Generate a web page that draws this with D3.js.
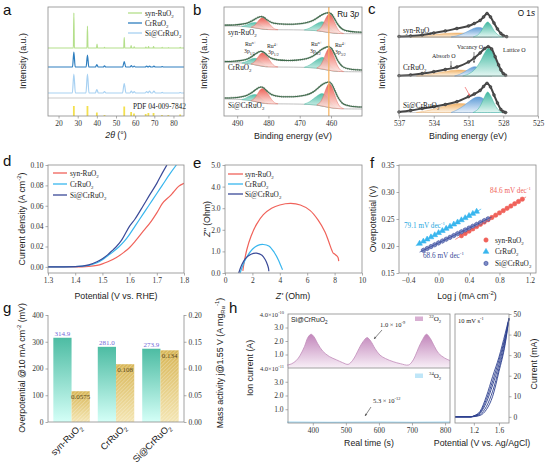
<!DOCTYPE html>
<html>
<head>
<meta charset="utf-8">
<script src="https://cdn.jsdelivr.net/npm/d3@7"></script>
<style>
  body { margin: 0; background: #fff; }
  svg { display: block; }
</style>
</head>
<body>
<svg id="fig" width="546" height="465"></svg>
<script>
// ---------- data ----------
var sampleNames = ["syn-RuO_{2}", "CrRuO_{2}", "Si@CrRuO_{2}"];

// (a) XRD: [2theta, height, half width]
var xrdTicks = [20, 30, 40, 50, 60, 70, 80];
var xrdSyn = [[28.0,3.5,0.25],[35.1,2.2,0.25],[40.1,0.4,0.25],[44.0,0.06,0.25],[54.3,1.05,0.25],[57.9,0.25,0.25],[59.5,0.12,0.25],[65.6,0.1,0.25],[67.0,0.15,0.25],[69.6,0.15,0.25],[74.1,0.06,0.25],[77.4,0.05,0.25],[83.5,0.06,0.25]];
var xrdCr = [[28.0,1.5,0.7],[35.1,1.2,0.7],[40.0,0.25,0.7],[44.0,0.12,0.6],[54.3,0.55,0.8],[58.0,0.15,0.6],[59.5,0.1,0.6],[66.0,0.1,0.7],[67.5,0.1,0.7],[69.8,0.1,0.7],[74.1,0.05,0.6]];
var xrdSi = [[28.0,1.9,0.8],[35.1,1.9,0.8],[40.0,0.35,0.8],[44.0,0.15,0.7],[54.3,0.95,0.9],[58.0,0.2,0.7],[59.5,0.15,0.7],[66.0,0.15,0.8],[67.5,0.2,0.8],[69.8,0.2,0.8],[74.1,0.06,0.7],[83.5,0.05,0.7]];
var pdfSticks = [[28.0,1.0],[35.1,1.0],[40.0,0.35],[44.0,0.1],[54.3,0.95],[57.9,0.4],[59.4,0.25],[65.5,0.2],[66.9,0.3],[69.6,0.3],[74.0,0.1],[77.3,0.1],[83.5,0.15]];

// (b) Ru 3p fit, [eV, value] and components [eV, low, high]
var ruTicks = [490, 480, 470, 460];
var ruEnv = [[494,18],[491,18.3],[489,19],[487,20.5],[485.5,23],[484,26.5],[483,28.5],[482.3,29],[481.5,28],[480.5,25],[479,21.5],[477,19.8],[474,19.2],[471,19.5],[468,21],[466,23.5],[464.5,27],[463,31],[461.5,33.5],[460.6,34],[459.8,32],[459,27],[458,20],[457,15],[456,12],[454,10],[452,9.2],[450.1,9]];
var ruBg = [[494,17],[490,16.7],[487,16],[485,15],[483,13.5],[481,12.5],[478,12.2],[472,12],[468,11.7],[465,11],[463,10],[461,8.8],[459,7.8],[456,7.2],[450.1,7]];
var ruN12 = [[488.5,16.3,16.5],[487.5,16.1,17.5],[486.5,15.8,19.2],[485.5,15.3,20.8],[484.3,14.6,21.5],[483.3,14,20.5],[482.3,13.4,17.8],[481.3,12.7,14.8],[480.3,12.4,12.9]];
var ru4p12 = [[485.5,15.3,15.6],[484.5,14.7,17.5],[483.5,14.1,22],[482.5,13.5,26.5],[481.8,13.1,27.5],[481,12.6,26],[480,12.4,21.5],[479,12.3,16.5],[478,12.2,13.2],[477,12.1,12.3]];
var ruN32 = [[468.5,11.7,12],[467,11.5,14],[465.5,11.2,17.5],[464,10.7,21],[463,10,22.5],[462,9.5,21.5],[461,8.8,18],[460,8.3,13],[459,7.8,9.5],[458,7.5,7.8]];
var ru4p32 = [[464.5,10.9,11.3],[463.5,10.4,13.5],[462.5,9.8,19.5],[461.5,9.2,28],[460.6,8.7,32.5],[459.8,8.2,30],[459,7.8,23],[458,7.5,14],[457,7.3,9],[456,7.2,7.4]];
var ruGain = [0.78, 0.93, 1.0];
var ruShift = [76.8, 37.7, 0];
var ruLine = 460.7;

// (c) O 1s, [eV, value]
var oTicks = [537, 534, 531, 528, 525];
var oSynData = [[537,0.5],[536,1],[535,2],[534,4],[533,6],[532,8.5],[531,11],[530.5,13.5],[530,16.5],[529.7,20],[529.4,23.5],[529.1,20],[528.8,14],[528.5,8],[528.2,3.5],[528,1.5],[527.7,0.3]];
var oSynAbs = [[536,0],[535,0.8],[534,2.2],[533,3.5],[532,4],[531,3.5],[530.5,2.6],[530,1.6],[529.5,0.7],[529,0]];
var oSynVac = [[532.5,0],[532,1.2],[531.5,3.2],[531,6],[530.5,8.8],[530.2,9.6],[529.9,9.2],[529.5,7],[529.1,3.8],[528.8,1.5],[528.5,0]];
var oSynLat = [[530.6,0],[530.2,2],[529.9,6],[529.6,12],[529.35,15],[529.1,12.5],[528.8,6.5],[528.5,2.5],[528.2,0.5],[528,0]];
var oCrData = [[537,0.3],[536,1],[535,2.5],[534,4.3],[533,6.5],[532,9],[531,14],[530.5,18],[530,23],[529.6,27.5],[529.3,29.3],[529,27],[528.7,19.3],[528.4,11],[528.2,6],[528,2.5],[527.8,0.8]];
var oCrAbs = [[535.5,0],[534.5,1.5],[533.5,3.5],[532.5,5.5],[531.8,6],[531,5],[530.5,3.5],[530,2],[529.5,0.8],[529,0]];
var oCrVac = [[532.2,0],[531.8,1.5],[531.3,4.5],[530.9,7.5],[530.5,9.3],[530.1,8],[529.7,5],[529.3,2],[529,0]];
var oCrLat = [[531.5,0],[531,2],[530.5,6],[530,14],[529.6,23],[529.3,27.7],[529,25],[528.7,17],[528.4,9],[528.1,3],[527.8,0]];
var oSiData = [[537,0.5],[536,2],[535,4],[534,5.8],[533,8],[532,10.8],[531,15.8],[530.5,18.5],[530,22],[529.7,26],[529.4,29.2],[529.1,25.5],[528.8,17.5],[528.5,9.5],[528.2,3],[528,0.8],[527.8,0]];
var oSiAbs = [[535.5,0],[534.5,2],[533.5,5],[532.5,8],[531.7,9],[531,8],[530.5,6],[530,3.5],[529.5,1.5],[529,0]];
var oSiVac = [[532.5,0],[532,2.5],[531.5,6],[531,10.5],[530.5,14.5],[530.2,15.5],[529.9,15],[529.5,11.5],[529.1,6],[528.7,2],[528.4,0]];
var oSiLat = [[530.6,0],[530.2,3],[529.9,8.5],[529.6,16],[529.35,20.5],[529.1,17],[528.8,9.5],[528.5,3.5],[528.2,0.8],[528,0]];
var oBase = [0, 0, 3.5];

// (d) LSV, [V vs RHE, A cm-2]
var lsvSyn = [[1.3,0],[1.4,0],[1.45,0.0005],[1.48,0.0015],[1.5,0.003],[1.52,0.005],[1.55,0.009],[1.58,0.0145],[1.6,0.019],[1.62,0.025],[1.65,0.035],[1.68,0.045],[1.7,0.053],[1.72,0.062],[1.75,0.07],[1.76,0.073],[1.78,0.079],[1.8,0.082]];
var lsvCr = [[1.3,0],[1.4,0.0003],[1.45,0.0015],[1.48,0.004],[1.5,0.007],[1.52,0.011],[1.54,0.015],[1.56,0.0195],[1.58,0.025],[1.6,0.032],[1.62,0.04],[1.65,0.052],[1.67,0.06],[1.7,0.072],[1.72,0.08],[1.75,0.092],[1.772,0.1]];
var lsvSi = [[1.3,0],[1.4,0.0003],[1.45,0.002],[1.48,0.005],[1.5,0.008],[1.52,0.012],[1.54,0.017],[1.55,0.0195],[1.57,0.026],[1.6,0.04],[1.62,0.047],[1.65,0.06],[1.67,0.069],[1.7,0.082],[1.72,0.092],[1.737,0.1]];

// (e) Nyquist, [Z', Z'']
var eisSyn = [[1.3,0.1],[1.4,0.5],[1.6,1.1],[1.9,1.7],[2.3,2.25],[2.8,2.7],[3.4,3.0],[4.0,3.15],[4.8,3.22],[5.5,3.15],[6.2,2.9],[6.8,2.45],[7.3,1.9],[7.6,1.4],[7.8,1.05],[7.9,0.92],[8.0,0.88],[8.15,0.8],[8.25,0.72],[8.3,0.55]];
var eisCr = [[1.1,0],[1.3,0.35],[1.6,0.75],[2.0,1.1],[2.4,1.28],[2.8,1.32],[3.2,1.25],[3.6,0.95],[3.9,0.6],[4.1,0.3],[4.2,0.15]];
var eisSi = [[1.0,0],[1.2,0.35],[1.5,0.68],[1.9,0.87],[2.3,0.92],[2.7,0.82],[2.95,0.6],[3.1,0.38],[3.18,0.2],[3.2,0.08]];

// (f) Tafel, [log j, overpotential]
var tafSyn = [[0.30,0.2190],[0.35,0.2232],[0.40,0.2275],[0.45,0.2317],[0.50,0.2359],[0.55,0.2402],[0.60,0.2444],[0.65,0.2486],[0.70,0.2528],[0.75,0.2571],[0.80,0.2613],[0.85,0.2655],[0.90,0.2698],[0.95,0.2740],[1.00,0.2782],[1.05,0.2824],[1.10,0.2867]];
var tafCr = [[-0.25,0.2045],[-0.20,0.2085],[-0.15,0.2124],[-0.10,0.2164],[-0.05,0.2203],[0,0.2243],[0.05,0.2282],[0.10,0.2322],[0.15,0.2361],[0.20,0.2401],[0.25,0.2440],[0.30,0.2480],[0.35,0.2519],[0.40,0.2559],[0.45,0.2598],[0.50,0.2638]];
var tafSi = [[-0.20,0.1920],[-0.15,0.1954],[-0.10,0.1989],[-0.05,0.2023],[0,0.2057],[0.05,0.2092],[0.10,0.2126],[0.15,0.2160],[0.20,0.2194],[0.25,0.2229],[0.30,0.2263],[0.35,0.2297],[0.40,0.2332],[0.45,0.2366],[0.50,0.2400],[0.55,0.2434],[0.60,0.2469],[0.65,0.2503]];
var fitSyn = [[0.22,0.2122],[1.15,0.2909]];
var fitCr = [[-0.30,0.2005],[0.56,0.2685]];
var fitSi = [[-0.25,0.1886],[0.70,0.2537]];
var tafelSlopes = ["84.6 mV dec^{-1}", "79.1 mV dec^{-1}", "68.6 mV dec^{-1}"];

// (g) overpotential and mass activity
var overpot = [314.9, 281.0, 273.9];
var massAct = [0.0575, 0.108, 0.134];
var overLabels = ["314.9", "281.0", "273.9"];
var massLabels = ["0.0575", "0.108", "0.134"];

// (h) DEMS ion current (x 1e-10 A) and CV
var ms32 = [[322,0.22],[335,0.3],[350,0.55],[362,0.95],[375,1.6],[386,2.3],[395,2.5],[404,2.3],[415,1.8],[430,1.25],[450,0.85],[472,0.6],[490,0.4],[507,0.27],[520,0.55],[530,0.95],[540,1.45],[552,1.95],[564,2.25],[575,2.0],[588,1.45],[603,0.96],[620,0.7],[643,0.47],[665,0.32],[689,0.22],[700,0.45],[710,0.9],[720,1.5],[732,2.1],[744,2.5],[755,2.2],[768,1.6],[780,1.1],[798,0.75],[815,0.55]];
var ms34 = [[322,0.06],[450,0.05],[600,0.06],[700,0.05],[815,0.06]];
var cvE = [0.9, 1.15, 1.2, 1.3, 1.4, 1.5, 1.6, 1.7, 1.76];
var cvScan1 = [0, 0, 0.5, 2.7, 10, 19.7, 29, 40.6, 48];
var cvScan2 = [0, 0, 0.4, 2.2, 8.5, 17.5, 27.5, 39, 47.5];
var cvScan3 = [0, 0, 0.3, 1.8, 7, 15.5, 25.5, 38, 47.5];
var cvScan4 = [0, 0, 0.2, 1.2, 5, 12.5, 23.5, 36.5, 48];
var cvScan5 = [0, 0, 0.1, 0.7, 3.5, 10, 22, 35.5, 48];

// ---------- helpers ----------
var fig = d3.select("#fig");
var SERIF = "'Liberation Serif', 'Times New Roman', serif";
var SANS = "'Liberation Sans', Arial, sans-serif";
var AX = "#8a8a8a";
var RED = "#f0625a", LBLUE = "#38b6ee", NAVY = "#3a4a98";

function rich(t, s, fs) {
  var re = /([_^*])\{([^}]*)\}|([^_^*]+)/g, m, cur = 0;
  while ((m = re.exec(s))) {
    var txt, target = 0, small = false, ital = false;
    if (m[3] !== undefined) { txt = m[3]; }
    else {
      txt = m[2];
      if (m[1] === "_") { target = 0.28 * fs; small = true; }
      else if (m[1] === "^") { target = -0.4 * fs; small = true; }
      else { ital = true; }
    }
    var ts = t.append("tspan").text(txt);
    if (target !== cur) { ts.attr("dy", target - cur); cur = target; }
    if (small) ts.attr("font-size", fs * 0.68);
    if (ital) ts.attr("font-style", "italic");
  }
  return t;
}

function label(x, y, s, o) {
  o = Object.assign({fs: 7, font: SERIF, anchor: "start", fill: "#222", rot: 0}, o || {});
  var t = fig.append("text")
      .attr("font-family", o.font)
      .attr("font-size", o.fs)
      .attr("fill", o.fill)
      .attr("text-anchor", o.anchor);
  if (o.rot) t.attr("transform", "translate(" + x + "," + y + ") rotate(" + o.rot + ")");
  else t.attr("x", x).attr("y", y);
  return rich(t, s, o.fs);
}
function xtitle(x, y, s) { return label(x, y, s, {font: SANS, fs: 8.8, anchor: "middle"}); }
function ytitle(x, y, s, rot) { return label(x, y, s, {font: SANS, fs: 8.8, anchor: "middle", rot: rot || -90}); }
function letter(x, y, s) { return label(x, y, s, {font: SANS, fs: 15, fill: "#111"}); }

function frame(x0, y0, x1, y1) {
  fig.append("rect")
      .attr("x", x0).attr("y", y0)
      .attr("width", x1 - x0).attr("height", y1 - y0)
      .attr("fill", "none").attr("stroke", AX).attr("stroke-width", 0.8);
}
function hline(x0, x1, y, col) {
  fig.append("line").attr("x1", x0).attr("x2", x1).attr("y1", y).attr("y2", y)
      .attr("stroke", col || AX).attr("stroke-width", 0.8);
}
function styleAxis(g) {
  g.attr("font-family", SERIF).attr("font-size", 7.5);
  g.select(".domain").remove();
  g.selectAll(".tick line").attr("stroke", AX).attr("stroke-width", 0.7);
  g.selectAll(".tick text").attr("fill", "#333");
  return g;
}
function axisAt(axis, x, y) {
  return styleAxis(fig.append("g").attr("transform", "translate(" + x + "," + y + ")").call(axis));
}

// gradients
var defs = fig.append("defs");
function vgrad(id, top, bottom) {
  var g = defs.append("linearGradient").attr("id", id)
      .attr("x1", 0).attr("y1", 0).attr("x2", 0).attr("y2", 1);
  g.append("stop").attr("offset", "0%").attr("stop-color", top);
  g.append("stop").attr("offset", "100%").attr("stop-color", bottom);
}
vgrad("gRed", "#ea5246", "#fde7e3");
vgrad("gTealX", "#3fb8a0", "#e3f6f2");
vgrad("gOrange", "#f1b46a", "#fdf3e6");
vgrad("gBlue", "#5d9bd6", "#e8f1fb");
vgrad("gTeal", "#4dbca3", "#d4fff7");
vgrad("gYellow", "#d8b656", "#f4e6b4");
vgrad("gPink", "#c286bb", "#f8eff7");
var hatch = defs.append("pattern").attr("id", "hatch")
    .attr("width", 2.6).attr("height", 2.6)
    .attr("patternUnits", "userSpaceOnUse")
    .attr("patternTransform", "rotate(45)");
hatch.append("line").attr("x1", 0).attr("y1", 0).attr("x2", 0).attr("y2", 2.6)
    .attr("stroke", "#fff").attr("stroke-width", 0.9).attr("stroke-opacity", 0.5);

// ---------- (a) XRD ----------
var xA = d3.scaleLinear().domain([14.5, 85.5]).range([48, 184]);
var yA = d3.scaleLinear().domain([0, 10.9]).range([116, 7]);
var xrdSets = [xrdSyn, xrdCr, xrdSi];
var xrdColors = ["#b4df8a", "#2e7ebf", "#a8d1f2"];
var xrdShift = [6.8, 4.9, 2.3];

function xrdLine(peaks) {
  var pts = [[14.5, 0]];
  peaks.forEach(function(p) { pts.push([p[0] - p[2], 0], [p[0], p[1]], [p[0] + p[2], 0]); });
  pts.push([85.5, 0]);
  return pts;
}
xrdSets.forEach(function(peaks, i) {
  var line = d3.line()
      .x(function(d) { return xA(d[0]); })
      .y(function(d) { return yA(xrdShift[i] + d[1]); })
      .curve(d3.curveMonotoneX);
  fig.append("path").attr("d", line(xrdLine(peaks)))
      .attr("fill", "none").attr("stroke", xrdColors[i]).attr("stroke-width", 1.2);
});
hline(48, 184, yA(1.8), "#bbb");
fig.append("g").selectAll("line").data(pdfSticks).join("line")
    .attr("x1", function(d) { return xA(d[0]); })
    .attr("x2", function(d) { return xA(d[0]); })
    .attr("y1", yA(0))
    .attr("y2", function(d) { return yA(d[1]); })
    .attr("stroke", "#f3e04e").attr("stroke-width", 1.8);
label(133, 109, "PDF 04-009-7842", {fs: 7.3});
sampleNames.forEach(function(n, i) {
  var y = 13 + i * 10;
  fig.append("line").attr("x1", 128).attr("x2", 142).attr("y1", y).attr("y2", y)
      .attr("stroke", xrdColors[i]).attr("stroke-width", 1.3);
  label(145, y + 2.5, n, {fs: 7.3});
});
frame(48, 7, 184, 116);
axisAt(d3.axisBottom(xA).tickValues(xrdTicks).tickSize(2.5).tickPadding(2.5), 0, 116);
ytitle(26, 61, "Intensity (a.u.)");
xtitle(116, 138, "*{2θ} (°)");
letter(3, 15, "a");

// ---------- (b) Ru 3p ----------
var xB = d3.scaleLinear().domain([494.2, 450.1]).range([224, 362]);
var yB = d3.scaleLinear().domain([0, 109]).range([116, 7]);
[0, 1, 2].forEach(function(i) {
  function yy(v) { return yB(ruShift[i] + ruGain[i] * v); }
  var area = d3.area()
      .x(function(d) { return xB(d[0]); })
      .y0(function(d) { return yy(d[1]); })
      .y1(function(d) { return yy(d[2]); })
      .curve(d3.curveCatmullRom);
  var line = d3.line()
      .x(function(d) { return xB(d[0]); })
      .y(function(d) { return yy(d[1]); })
      .curve(d3.curveCatmullRom);
  fig.append("path").attr("d", line(ruBg)).attr("fill", "none").attr("stroke", "#b0b0b0").attr("stroke-width", 0.8);
  [[ruN12, "url(#gTealX)", "#3fb8a0"], [ruN32, "url(#gTealX)", "#3fb8a0"],
   [ru4p12, "url(#gRed)", "#e65a4e"], [ru4p32, "url(#gRed)", "#e65a4e"]].forEach(function(c) {
    fig.append("path").attr("d", area(c[0])).attr("fill", c[1])
        .attr("stroke", c[2]).attr("stroke-width", 0.4).attr("fill-opacity", 0.9);
  });
  fig.append("path").attr("d", line(ruEnv)).attr("fill", "none")
      .attr("stroke", "#9aa69c").attr("stroke-width", 2.0).attr("stroke-dasharray", "1.2,0.8");
  fig.append("path").attr("d", line(ruEnv)).attr("fill", "none")
      .attr("stroke", "#3f6b4c").attr("stroke-width", 1.1);
});
fig.append("line").attr("x1", xB(ruLine)).attr("x2", xB(ruLine)).attr("y1", 7).attr("y2", 116)
    .attr("stroke", "#f6b05c").attr("stroke-width", 1.2);
label(228, 35, sampleNames[0], {fs: 7.3});
label(228, 70, sampleNames[1], {fs: 7.3});
label(228, 108, sampleNames[2], {fs: 7.3});
label(245, 46, "Ru^{n+}", {fs: 5.8});
label(244, 53, "3p_{1/2}", {fs: 5.8});
label(267, 48, "Ru^{4+}", {fs: 5.8});
label(268, 54, "3p_{1/2}", {fs: 5.8});
label(311, 46, "Ru^{n+}", {fs: 5.8});
label(310, 53, "3p_{3/2}", {fs: 5.8});
label(335, 47, "Ru^{4+}", {fs: 5.8});
label(335, 54, "3p_{3/2}", {fs: 5.8});
label(359, 17, "Ru 3*{p}", {font: SANS, fs: 8.2, anchor: "end", fill: "#111"});
frame(224, 7, 362, 116);
axisAt(d3.axisBottom(xB).tickValues(ruTicks).tickSize(2.5).tickPadding(2.5), 0, 116);
ytitle(207, 61, "Intensity (a.u.)");
xtitle(293, 139, "Binding energy (eV)");
letter(193, 15, "b");

// ---------- (c) O 1s ----------
var xC = d3.scaleLinear().domain([537, 525]).range([399, 538]);
var oSubs = [[7, 37], [37, 76], [76, 116]];
var oSets = [[oSynData, oSynAbs, oSynVac, oSynLat], [oCrData, oCrAbs, oCrVac, oCrLat], [oSiData, oSiAbs, oSiVac, oSiLat]];
var oFills = [["url(#gOrange)", "#eeb06a"], ["url(#gBlue)", "#5d9bd6"], ["url(#gTealX)", "#3fb8a0"]];
oSets.forEach(function(set, i) {
  var top = oSubs[i][0], bot = oSubs[i][1];
  var y = d3.scaleLinear().domain([0, bot - top]).range([bot, top]);
  var base = oBase[i];
  var area = d3.area()
      .x(function(d) { return xC(d[0]); })
      .y0(y(base))
      .y1(function(d) { return y(base + d[1]); })
      .curve(d3.curveCatmullRom);
  fig.append("line").attr("x1", xC(537)).attr("x2", xC(527.6)).attr("y1", y(base)).attr("y2", y(base))
      .attr("stroke", "#bbb").attr("stroke-width", 0.7);
  [1, 2, 3].forEach(function(k) {
    fig.append("path").attr("d", area(set[k])).attr("fill", oFills[k - 1][0])
        .attr("stroke", oFills[k - 1][1]).attr("stroke-width", 0.5);
  });
  var line = d3.line()
      .x(function(d) { return xC(d[0]); })
      .y(function(d) { return y(base + d[1]); })
      .curve(d3.curveCatmullRom);
  fig.append("path").attr("d", line(set[0])).attr("fill", "none")
      .attr("stroke", "#454545").attr("stroke-width", 2);
  fig.append("g").selectAll("circle").data(set[0]).join("circle")
      .attr("cx", function(d) { return xC(d[0]); })
      .attr("cy", function(d) { return y(base + d[1]); })
      .attr("r", 1.4).attr("fill", "#555").attr("stroke", "#333").attr("stroke-width", 0.5);
});
hline(399, 538, 37);
hline(399, 538, 76);
label(403, 33, sampleNames[0], {fs: 7.3});
label(403, 70, sampleNames[1], {fs: 7.3});
label(403, 108, sampleNames[2], {fs: 7.3});
label(432, 58, "Absorb O", {fs: 6});
label(457, 49, "Vacancy O", {fs: 6});
label(503, 52, "Lattice O", {fs: 6});
function arrow(x1, y1, x2, y2, col) {
  fig.append("line").attr("x1", x1).attr("y1", y1).attr("x2", x2).attr("y2", y2)
      .attr("stroke", col).attr("stroke-width", 0.7);
  var a = Math.atan2(y2 - y1, x2 - x1), L = 2.6;
  var p = [[x2, y2],
           [x2 - L * Math.cos(a - 0.45), y2 - L * Math.sin(a - 0.45)],
           [x2 - L * Math.cos(a + 0.45), y2 - L * Math.sin(a + 0.45)]];
  fig.append("path").attr("d", "M" + p.join("L") + "Z").attr("fill", col);
}
arrow(451, 61, 451, 68, "#555");
arrow(474, 52, 474, 63, "#555");
arrow(465, 87, 470, 96, "#f06262");
label(535, 16, "O 1*{s}", {font: SANS, fs: 8.2, anchor: "end", fill: "#111"});
frame(399, 7, 538, 116);
axisAt(d3.axisBottom(xC).tickValues(oTicks).tickSize(2.5).tickPadding(2.5), 0, 116);
ytitle(385, 61, "Intensity (a.u.)");
xtitle(468, 139, "Binding energy (eV)");
letter(368, 14, "c");

// ---------- (d) LSV ----------
var xD = d3.scaleLinear().domain([1.3, 1.8]).range([48, 184]);
var yD = d3.scaleLinear().domain([-0.006, 0.1]).range([273, 165]);
var lsvColors = [RED, LBLUE, NAVY];
fig.append("clipPath").attr("id", "clipD").append("rect").attr("x", 48).attr("y", 165).attr("width", 136).attr("height", 108);
[lsvSyn, lsvCr, lsvSi].forEach(function(s, i) {
  var line = d3.line().x(function(d) { return xD(d[0]); }).y(function(d) { return yD(d[1]); }).curve(d3.curveMonotoneX);
  fig.append("path").attr("d", line(s)).attr("clip-path", "url(#clipD)")
      .attr("fill", "none").attr("stroke", lsvColors[i]).attr("stroke-width", 1.2);
});
sampleNames.forEach(function(n, i) {
  var y = 173 + i * 11;
  fig.append("line").attr("x1", 53).attr("x2", 67).attr("y1", y).attr("y2", y)
      .attr("stroke", lsvColors[i]).attr("stroke-width", 1.3);
  label(70, y + 2.5, n, {fs: 7.3});
});
frame(48, 165, 184, 273);
axisAt(d3.axisBottom(xD).tickValues([1.3, 1.4, 1.5, 1.6, 1.7, 1.8]).tickFormat(d3.format(".1f")).tickSize(2.5).tickPadding(2.5), 0, 273);
axisAt(d3.axisLeft(yD).tickValues([0, 0.02, 0.04, 0.06, 0.08, 0.1]).tickFormat(d3.format(".2f")).tickSize(2.5).tickPadding(2), 48, 0);
ytitle(25, 219, "Current density (A cm^{-2})");
xtitle(116, 299, "Potential (V vs. RHE)");
letter(3, 166, "d");

// ---------- (e) EIS ----------
var xE = d3.scaleLinear().domain([0, 10]).range([225, 362]);
var yE = d3.scaleLinear().domain([0, 5]).range([273, 165]);
[eisSyn, eisCr, eisSi].forEach(function(s, i) {
  var line = d3.line().x(function(d) { return xE(d[0]); }).y(function(d) { return yE(d[1]); }).curve(d3.curveCatmullRom);
  fig.append("path").attr("d", line(s)).attr("fill", "none").attr("stroke", lsvColors[i]).attr("stroke-width", 1.2);
});
sampleNames.forEach(function(n, i) {
  var y = 174 + i * 10;
  fig.append("line").attr("x1", 228).attr("x2", 243).attr("y1", y).attr("y2", y)
      .attr("stroke", lsvColors[i]).attr("stroke-width", 1.3);
  label(245, y + 2.5, n, {fs: 7.3});
});
frame(225, 165, 362, 273);
axisAt(d3.axisBottom(xE).tickValues([0, 2, 4, 6, 8, 10]).tickSize(2.5).tickPadding(2.5), 0, 273);
axisAt(d3.axisLeft(yE).tickValues([0, 1, 2, 3, 4, 5]).tickSize(2.5).tickPadding(2), 225, 0);
ytitle(210, 219, "*{Z''} (Ohm)");
xtitle(293, 299, "*{Z'} (Ohm)");
letter(193, 168, "e");

// ---------- (f) Tafel ----------
var xF = d3.scaleLinear().domain([-0.52, 1.28]).range([399, 536]);
var yF = d3.scaleLinear().domain([0.15, 0.35]).range([273, 165]);
var hexPath = "M0,-2.3L2,-1.15L2,1.15L0,2.3L-2,1.15L-2,-1.15Z";
var tafSymbols = [d3.symbol().type(d3.symbolCircle).size(15)(), d3.symbol().type(d3.symbolTriangle).size(14)(), hexPath];
var tafFill = [RED, LBLUE, "#7d8cc6"];
var tafStroke = [RED, LBLUE, NAVY];
[tafSyn, tafCr, tafSi].forEach(function(s, i) {
  fig.append("g").selectAll("path").data(s).join("path")
      .attr("transform", function(d) { return "translate(" + xF(d[0]) + "," + yF(d[1]) + ")"; })
      .attr("d", tafSymbols[i])
      .attr("fill", tafFill[i]).attr("stroke", tafStroke[i]).attr("stroke-width", 0.6);
});
[fitSyn, fitCr, fitSi].forEach(function(s, i) {
  fig.append("line")
      .attr("x1", xF(s[0][0])).attr("y1", yF(s[0][1]))
      .attr("x2", xF(s[1][0])).attr("y2", yF(s[1][1]))
      .attr("stroke", tafStroke[i]).attr("stroke-width", 0.7);
});
label(490, 193, tafelSlopes[0], {fs: 7.2, fill: RED});
label(404, 228, tafelSlopes[1], {fs: 7.2, fill: "#2aa8e0"});
label(423, 258, tafelSlopes[2], {fs: 7.2, fill: NAVY});
sampleNames.forEach(function(n, i) {
  var y = 240 + i * 11.7;
  fig.append("path").attr("transform", "translate(486," + y + ")").attr("d", tafSymbols[i])
      .attr("fill", tafFill[i]).attr("stroke", tafStroke[i]).attr("stroke-width", 0.6);
  label(495, y + 2.5, n, {fs: 7.3});
});
frame(399, 165, 536, 273);
axisAt(d3.axisBottom(xF).tickValues([-0.4, 0, 0.4, 0.8, 1.2]).tickFormat(d3.format(".1f")).tickSize(2.5).tickPadding(2.5), 0, 273);
axisAt(d3.axisLeft(yF).tickValues([0.15, 0.2, 0.25, 0.3, 0.35]).tickFormat(d3.format(".2f")).tickSize(2.5).tickPadding(2), 399, 0);
ytitle(376, 219, "Overpotential (V)");
xtitle(467, 299, "Log j (mA cm^{-2})");
letter(370, 168, "f");

// ---------- (g) bars ----------
var xG = d3.scaleBand().domain([0, 1, 2]).range([48, 184]).paddingInner(0.18).paddingOuter(0.12);
var yG = d3.scaleLinear().domain([0, 400]).range([422, 315]);
var yG2 = d3.scaleLinear().domain([0, 0.2]).range([422, 315]);
var bw = xG.bandwidth() / 2;
fig.append("g").selectAll("rect").data(overpot).join("rect")
    .attr("x", function(d, i) { return xG(i); })
    .attr("y", function(d) { return yG(d); })
    .attr("width", bw)
    .attr("height", function(d) { return yG(0) - yG(d); })
    .attr("fill", "url(#gTeal)");
var yb = fig.append("g").selectAll("g").data(massAct).join("g");
yb.append("rect")
    .attr("x", function(d, i) { return xG(i) + bw; })
    .attr("y", function(d) { return yG2(d); })
    .attr("width", bw)
    .attr("height", function(d) { return yG2(0) - yG2(d); })
    .attr("fill", "url(#gYellow)");
yb.append("rect")
    .attr("x", function(d, i) { return xG(i) + bw; })
    .attr("y", function(d) { return yG2(d); })
    .attr("width", bw)
    .attr("height", function(d) { return yG2(0) - yG2(d); })
    .attr("fill", "url(#hatch)");
overLabels.forEach(function(s, i) {
  label(xG(i) + bw / 2, yG(overpot[i]) - 2, s, {fs: 7, anchor: "middle", fill: "#7468d8"});
});
massLabels.forEach(function(s, i) {
  label(xG(i) + bw * 1.5, yG2(massAct[i]) + 8, s, {fs: 7, anchor: "middle", fill: "#5b4a1e"});
});
fig.append("line").attr("x1", 48).attr("x2", 48).attr("y1", 315).attr("y2", 422).attr("stroke", AX).attr("stroke-width", 0.8);
fig.append("line").attr("x1", 184).attr("x2", 184).attr("y1", 315).attr("y2", 422).attr("stroke", AX).attr("stroke-width", 0.8);
hline(48, 184, 422);
axisAt(d3.axisLeft(yG).tickValues([0, 100, 200, 300, 400]).tickSize(2.5).tickPadding(2), 48, 0);
axisAt(d3.axisRight(yG2).tickValues([0, 0.05, 0.1, 0.15, 0.2]).tickFormat(d3.format(".2f")).tickSize(2.5).tickPadding(2), 184, 0);
sampleNames.forEach(function(n, i) {
  label(xG(i) + xG.bandwidth() / 2 + 11, 428, n, {font: SANS, fs: 9.2, anchor: "end", rot: -45});
});
ytitle(25, 368, "Overpotential @10 mA cm^{-2} (mV)", -90);
ytitle(223, 363, "Mass activity j@1.55 V (A mg_{Ru}^{-1})", -90);
letter(3, 313, "g");

// ---------- (h) DEMS ----------
var xH = d3.scaleLinear().domain([325, 815]).range([288, 450]);
var yHt = d3.scaleLinear().domain([0, 4]).range([368, 314]);
var yHb = d3.scaleLinear().domain([0, 4]).range([423, 368]);
var pinkArea = d3.area().x(function(d) { return xH(d[0]); }).y0(yHt(0)).y1(function(d) { return yHt(d[1]); }).curve(d3.curveCatmullRom);
var pinkLine = d3.line().x(function(d) { return xH(d[0]); }).y(function(d) { return yHt(d[1]); }).curve(d3.curveCatmullRom);
fig.append("path").attr("d", pinkArea(ms32)).attr("fill", "url(#gPink)");
fig.append("path").attr("d", pinkLine(ms32)).attr("fill", "none").attr("stroke", "#c08ab9").attr("stroke-width", 0.8);
var blueLine = d3.line().x(function(d) { return xH(d[0]); }).y(function(d) { return yHb(d[1]); });
fig.append("path").attr("d", blueLine(ms34)).attr("fill", "none").attr("stroke", "#9fd8f3").attr("stroke-width", 1.2);
frame(288, 314, 450, 423);
hline(288, 450, 368);
axisAt(d3.axisBottom(xH).tickValues([400, 500, 600, 700, 800]).tickSize(2.5).tickPadding(2.5), 0, 423);
axisAt(d3.axisLeft(yHt).tickValues([1, 2, 3]).tickFormat(d3.format(".1f")).tickSize(2.5).tickPadding(2), 288, 0);
axisAt(d3.axisLeft(yHb).tickValues([1, 2, 3]).tickFormat(d3.format(".1f")).tickSize(2.5).tickPadding(2), 288, 0);
label(284, 316.5, "4.0×10^{-10}", {fs: 6.5, anchor: "end", fill: "#333"});
label(284, 370.5, "4.0×10^{-11}", {fs: 6.5, anchor: "end", fill: "#333"});
label(291, 322, "Si@CrRuO_{2}", {font: SANS, fs: 6.8, fill: "#222"});
fig.append("rect").attr("x", 415).attr("y", 316.5).attr("width", 8).attr("height", 4.5).attr("fill", "#d8afd2");
label(429, 321, "^{32}O_{2}", {fs: 7});
fig.append("rect").attr("x", 415).attr("y", 373.5).attr("width", 8).attr("height", 4.5).attr("fill", "#bfe6f8");
label(429, 378, "^{34}O_{2}", {fs: 7});
label(380, 327, "1.0 × 10^{-9}", {fs: 6.5});
arrow(382, 330, 374, 339, "#555");
label(373, 403, "5.3 × 10^{-12}", {fs: 6.5});
arrow(371, 407, 365, 416, "#555");
ytitle(253, 368, "Ion current (A)");
xtitle(369, 446, "Real time (s)");
letter(229, 313, "h");

// CV
var xV = d3.scaleLinear().domain([0.9, 1.76]).range([455, 509]);
var yV = d3.scaleLinear().domain([-3, 50]).range([423, 314]);
var cvLine = d3.line().x(function(d) { return xV(d[0]); }).y(function(d) { return yV(d[1]); }).curve(d3.curveMonotoneX);
[cvScan1, cvScan2, cvScan3, cvScan4, cvScan5].forEach(function(sc) {
  var pts = cvE.map(function(e, k) { return [e, sc[k]]; });
  fig.append("path").attr("d", cvLine(pts)).attr("fill", "none").attr("stroke", "#2c3f8f").attr("stroke-width", 0.9);
});
frame(455, 314, 509, 423);
axisAt(d3.axisBottom(xV).tickValues([1.2, 1.6]).tickFormat(d3.format(".1f")).tickSize(2.5).tickPadding(2.5), 0, 423);
axisAt(d3.axisRight(yV).tickValues([0, 10, 20, 30, 40, 50]).tickSize(2.5).tickPadding(2), 509, 0);
label(458, 323, "10 mV s^{-1}", {fs: 6.5});
ytitle(537, 364, "Current (mA)");
xtitle(482, 446, "Potential (V vs. Ag/AgCl)");
</script>
</body>
</html>
